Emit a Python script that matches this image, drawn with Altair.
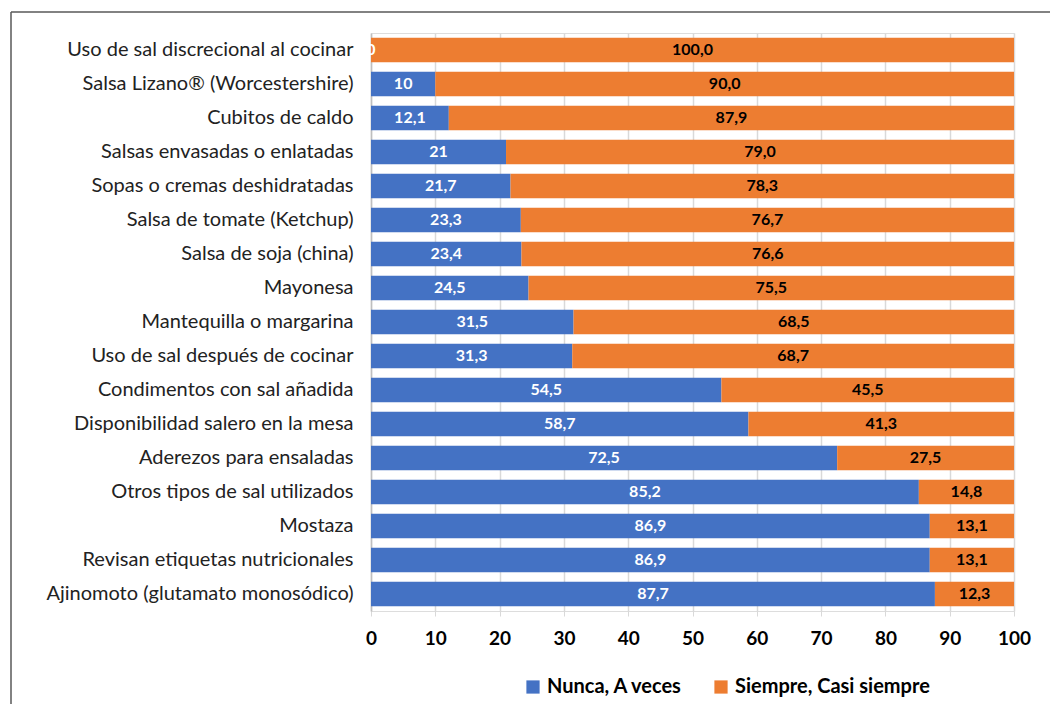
import altair as alt
import pandas as pd

categories = [
    "Uso de sal discrecional al cocinar",
    "Salsa Lizano® (Worcestershire)",
    "Cubitos de caldo",
    "Salsas envasadas o enlatadas",
    "Sopas o cremas deshidratadas",
    "Salsa de tomate (Ketchup)",
    "Salsa de soja (china)",
    "Mayonesa",
    "Mantequilla o margarina",
    "Uso de sal después de cocinar",
    "Condimentos con sal añadida",
    "Disponibilidad salero en la mesa",
    "Aderezos para ensaladas",
    "Otros tipos de sal utilizados",
    "Mostaza",
    "Revisan etiquetas nutricionales",
    "Ajinomoto (glutamato monosódico)",
]
nunca = [0, 10, 12.1, 21, 21.7, 23.3, 23.4, 24.5, 31.5, 31.3, 54.5, 58.7, 72.5, 85.2, 86.9, 86.9, 87.7]
siempre = [100.0, 90.0, 87.9, 79.0, 78.3, 76.7, 76.6, 75.5, 68.5, 68.7, 45.5, 41.3, 27.5, 14.8, 13.1, 13.1, 12.3]
nunca_labels = ["0", "10", "12,1", "21", "21,7", "23,3", "23,4", "24,5", "31,5", "31,3", "54,5", "58,7", "72,5", "85,2", "86,9", "86,9", "87,7"]
siempre_labels = ["100,0", "90,0", "87,9", "79,0", "78,3", "76,7", "76,6", "75,5", "68,5", "68,7", "45,5", "41,3", "27,5", "14,8", "13,1", "13,1", "12,3"]
series = ["Nunca, A veces", "Siempre, Casi siempre"]
colors = ["#4472C4", "#ED7D31"]

rows = []
for i, c in enumerate(categories):
    rows.append({"cat": c, "serie": series[0], "start": 0, "end": nunca[i],
                 "mid": nunca[i] / 2, "label": nunca_labels[i], "order": 0})
    rows.append({"cat": c, "serie": series[1], "start": nunca[i], "end": nunca[i] + siempre[i],
                 "mid": nunca[i] + siempre[i] / 2, "label": siempre_labels[i], "order": 1})
df = pd.DataFrame(rows)

FONT = "Lato"

yenc = alt.Y("cat:N", sort=categories, title=None,
             scale=alt.Scale(paddingInner=0.28, paddingOuter=0.14),
             axis=alt.Axis(labelFontSize=20, labelColor="#222222", labelFont=FONT,
                           labelPadding=18, ticks=False, domain=True,
                           domainColor="#BFBFBF", domainWidth=1.5, labelLimit=400))

bars = alt.Chart(df).mark_bar().encode(
    x=alt.X("start:Q", scale=alt.Scale(domain=[0, 100], nice=False),
            axis=alt.Axis(values=list(range(0, 101, 10)), labelFontSize=19, labelFontWeight="bold",
                          labelColor="#000000", labelFont=FONT, labelPadding=13, labelFlush=False,
                          domain=False, ticks=True, tickColor="#D9D9D9", tickSize=5,
                          grid=True, gridColor="#D9D9D9", gridWidth=1.5, title=None)),
    x2="end:Q",
    y=yenc,
    color=alt.Color("serie:N", scale=alt.Scale(domain=series, range=colors),
                    legend=alt.Legend(title=None, orient="none", direction="horizontal",
                                      legendX=152, legendY=644, symbolType="square",
                                      symbolSize=175, symbolStrokeWidth=0,
                                      labelFontSize=20, labelFontWeight="bold",
                                      labelFont=FONT, labelColor="#000000", labelLimit=400,
                                      columnPadding=28, symbolOpacity=1)),
)

text_blue = alt.Chart(df[df["order"] == 0]).mark_text(
    color="white", fontWeight="bold", fontSize=16, font=FONT
).encode(x="mid:Q", y=alt.Y("cat:N", sort=categories), text="label:N")

text_orange = alt.Chart(df[df["order"] == 1]).mark_text(
    color="black", fontWeight="bold", fontSize=16, font=FONT
).encode(x="mid:Q", y=alt.Y("cat:N", sort=categories), text="label:N")

frame_left = alt.Chart(pd.DataFrame({"a": [0]})).mark_rule(color="#595959", strokeWidth=1.5).encode(
    x=alt.value(-360), y=alt.value(-21), y2=alt.value(700))
frame_top = alt.Chart(pd.DataFrame({"a": [0]})).mark_rule(color="#595959", strokeWidth=1.5).encode(
    x=alt.value(-360), x2=alt.value(700), y=alt.value(-21))

chart = alt.layer(bars, text_blue, text_orange, frame_left, frame_top).properties(
    width=643, height=578,
    autosize=alt.AutoSizeParams(type="none"),
    padding={"left": 371, "top": 33, "right": 36, "bottom": 93},
).configure_view(stroke=None).configure(background="white")

chart.save("out.html", embed_options={"renderer": "svg", "actions": False})
